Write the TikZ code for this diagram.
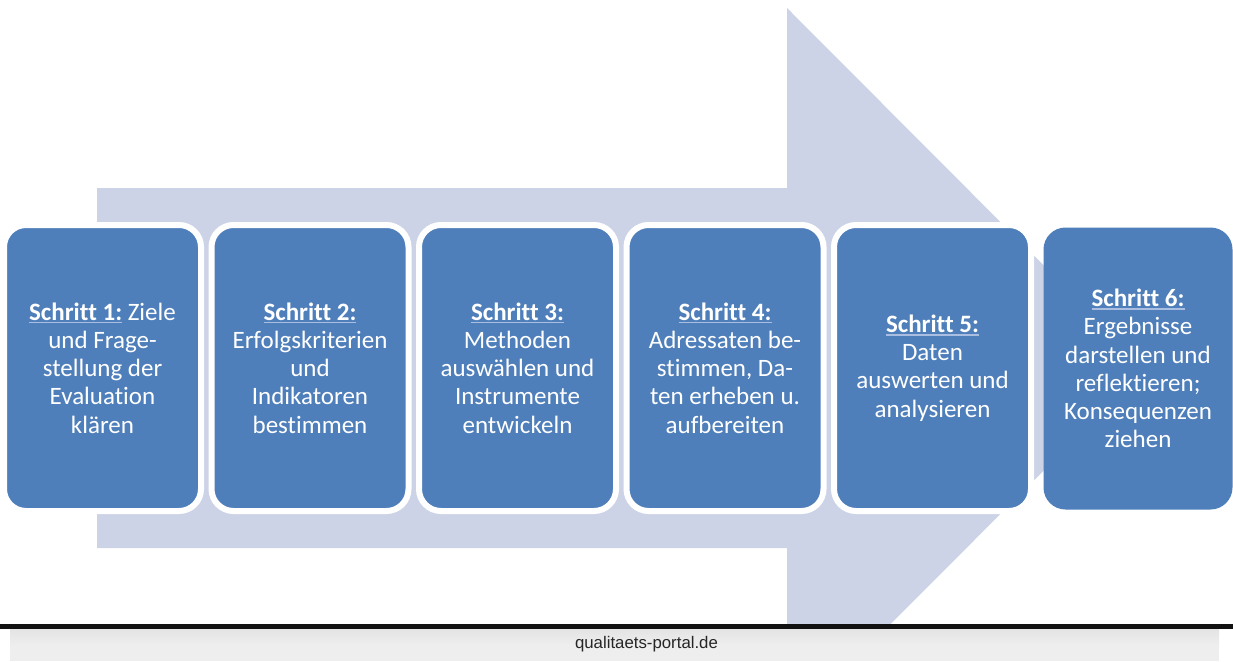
\documentclass[tikz,border=0pt]{standalone}
\usepackage{fontspec}
\setmainfont{Carlito}[Ligatures=NoCommon]
\newfontfamily\footfont{Liberation Sans}
\definecolor{boxblue}{RGB}{79,127,186}
\definecolor{arrowfill}{RGB}{204,211,230}
\definecolor{ulcol}{RGB}{170,190,225}
\definecolor{barfill}{RGB}{238,238,238}
\definecolor{bartop}{RGB}{228,228,228}
\newcommand\schul[1]{\setbox0\hbox{\bfseries #1}\rlap{\color{ulcol}\rule[-3.2pt]{\wd0}{1.3pt}}\box0\relax}
\tikzset{
  stepbox/.style={draw=white, line width=6pt, fill=boxblue, rounded corners=22pt,
    minimum width=197pt, minimum height=286pt, inner sep=0pt, text=white,
    align=center, font=\fontsize{25pt}{28.3pt}\selectfont},
  lastbox/.style={stepbox, draw=none, minimum width=189pt, minimum height=282pt},
}
\begin{document}
\begin{tikzpicture}[x=1pt,y=-1pt]
\useasboundingbox (0,0) rectangle (1233,661);
\fill[white] (0,0) rectangle (1233,661);
\begin{scope}
\clip (0,0) rectangle (1233,624.5);
\fill[arrowfill] (97,188) -- (787,188) -- (787,8) -- (1146,368) -- (787,728) -- (787,548) -- (97,548) -- cycle;
\end{scope}
\node[stepbox] (s1) at (102.5,368) {\schul{Schritt 1:} Ziele\\und Frage-\\stellung der\\Evaluation\\klären};
\node[stepbox] (s2) at (310,368) {\schul{Schritt 2:}\\Erfolgskriterien\\und\\Indikatoren\\bestimmen};
\node[stepbox] (s3) at (517.5,368) {\schul{Schritt 3:}\\Methoden\\auswählen und\\Instrumente\\entwickeln};
\node[stepbox] (s4) at (725,368) {\schul{Schritt 4:}\\Adressaten be-\\stimmen, Da-\\ten erheben u.\\aufbereiten};
\node[stepbox] (s5) at (932.5,368) {\schul{Schritt 5:}\\Daten\\auswerten und\\analysieren};
\node[lastbox] (s6) at (1138,368.5) {\schul{Schritt 6:}\\Ergebnisse\\darstellen und\\reflektieren;\\Konsequenzen\\ziehen};
\fill[black!93] (0,624) rectangle (1233,629);
\shade[top color=bartop, bottom color=barfill] (10,629) rectangle (1219,645);
\fill[barfill] (10,645) rectangle (1219,661);
\node[inner sep=0pt, font=\footfont\fontsize{16.8pt}{20pt}\selectfont, text=black!85, anchor=base] (foot) at (646.5,648) {qualitaets-portal.de};
\end{tikzpicture}
\end{document}
